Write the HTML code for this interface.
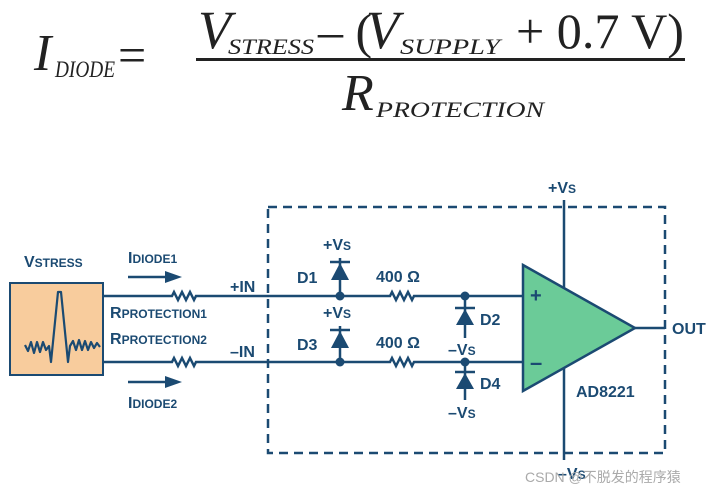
<!DOCTYPE html>
<html><head><meta charset="utf-8"><style>
html,body{margin:0;padding:0;background:#fff;}
svg{display:block;}
.s{font-family:"Liberation Serif",serif;font-style:italic;fill:#222;}
.b{font-family:"Liberation Sans",sans-serif;font-weight:bold;fill:#1b4a72;}
</style></head><body>
<svg width="721" height="492" viewBox="0 0 721 492" xmlns="http://www.w3.org/2000/svg">
<!-- formula -->
<text class="s" x="34" y="70" font-size="52">I</text>
<text class="s" x="55" y="77" font-size="23" textLength="60" lengthAdjust="spacingAndGlyphs">DIODE</text>
<text x="118" y="72" font-size="50" font-family="Liberation Serif,serif" fill="#222">=</text>
<text class="s" x="198" y="48" font-size="54">V</text>
<text class="s" x="228" y="54" font-size="22" textLength="86" lengthAdjust="spacingAndGlyphs">STRESS</text>
<text x="318" y="48" font-size="50" font-family="Liberation Serif,serif" fill="#222">– (</text>
<text class="s" x="366" y="48" font-size="54">V</text>
<text class="s" x="400" y="54" font-size="22" textLength="100" lengthAdjust="spacingAndGlyphs">SUPPLY</text>
<text x="516" y="48" font-size="50" font-family="Liberation Serif,serif" fill="#222" textLength="168" lengthAdjust="spacingAndGlyphs">+ 0.7 V)</text>
<rect x="196" y="58" width="489" height="3" fill="#222"/>
<text class="s" x="342" y="110" font-size="52">R</text>
<text class="s" x="376" y="117" font-size="22" textLength="168" lengthAdjust="spacingAndGlyphs">PROTECTION</text>

<g stroke="#1b4a72" stroke-width="2.5" fill="none">
<rect x="268" y="207" width="397" height="246" stroke-dasharray="9,6"/>
<rect x="10" y="283" width="93" height="92" fill="#f8cc9d" stroke-width="2"/>
<path d="M25 345 l3 6 3 -9 3 11 3 -11 3 10 3 -10 3 8 3 -4 2 16 3 -30 4 -40 3 0 4 40 3 30 2 -16 3 -5 3 9 3 -10 3 10 3 -9 3 9 3 -8 3 6 3 -5 3 4" stroke-width="2.2" stroke-linejoin="round"/>
<path d="M103 296 H172 l2 -4 4 8 4 -8 4 8 4 -8 4 8 2 -4 H390 l2 -4 4 8 4 -8 4 8 4 -8 4 8 2 -4 H523"/>
<path d="M103 362 H172 l2 -4 4 8 4 -8 4 8 4 -8 4 8 2 -4 H390 l2 -4 4 8 4 -8 4 8 4 -8 4 8 2 -4 H523"/>
<path d="M128 277 H165"/><path d="M128 382 H165"/>
<path d="M340 258 V296"/><path d="M340 326 V362"/>
<path d="M465 296 V338"/><path d="M465 362 V400"/>
<path d="M330 262 H350"/><path d="M330 330 H350"/>
<path d="M455 308 H475"/><path d="M455 372 H475"/>
<path d="M564 200 V288"/><path d="M564 368 V460"/>
<path d="M635 328 H665"/>
</g>
<g fill="#1b4a72">
<polygon points="165,271 182,277 165,283"/><polygon points="165,376 182,382 165,388"/>
<polygon points="331,280 349,280 340,263"/><polygon points="331,348 349,348 340,331"/>
<polygon points="456,325 474,325 465,309"/><polygon points="456,389 474,389 465,373"/>
<circle cx="340" cy="296" r="4.5"/><circle cx="340" cy="362" r="4.5"/>
<circle cx="465" cy="296" r="4.5"/><circle cx="465" cy="362" r="4.5"/>
</g>
<polygon points="523,265 635,328 523,391" fill="#6bcb98" stroke="#1b4a72" stroke-width="2.5"/>
<text class="b" x="530" y="302" font-size="20" font-weight="normal">+</text>
<text class="b" x="530" y="370" font-size="22" font-weight="normal">–</text>
<g class="b" font-size="16">
<text x="24" y="267">V<tspan font-size="12">STRESS</tspan></text>
<text x="128" y="263">I<tspan font-size="12">DIODE1</tspan></text>
<text x="110" y="318">R<tspan font-size="12">PROTECTION1</tspan></text>
<text x="110" y="344">R<tspan font-size="12">PROTECTION2</tspan></text>
<text x="128" y="408">I<tspan font-size="12">DIODE2</tspan></text>
<text x="230" y="292">+IN</text>
<text x="230" y="357">–IN</text>
<text x="323" y="250">+V<tspan font-size="12">S</tspan></text>
<text x="323" y="318">+V<tspan font-size="12">S</tspan></text>
<text x="297" y="283">D1</text>
<text x="297" y="350">D3</text>
<text x="376" y="282">400 Ω</text>
<text x="376" y="348">400 Ω</text>
<text x="480" y="325">D2</text>
<text x="480" y="389">D4</text>
<text x="448" y="355">–V<tspan font-size="12">S</tspan></text>
<text x="448" y="418">–V<tspan font-size="12">S</tspan></text>
<text x="548" y="193">+V<tspan font-size="12">S</tspan></text>
<text x="576" y="397">AD8221</text>
<text x="672" y="334">OUT</text>
<text x="558" y="479">–V<tspan font-size="12">S</tspan></text>
</g>
<text x="525" y="482" font-size="14" font-family="Liberation Sans,'Noto Sans CJK SC',sans-serif" fill="#aaa">CSDN @不脱发的程序猿</text>
</svg>
</body></html>
